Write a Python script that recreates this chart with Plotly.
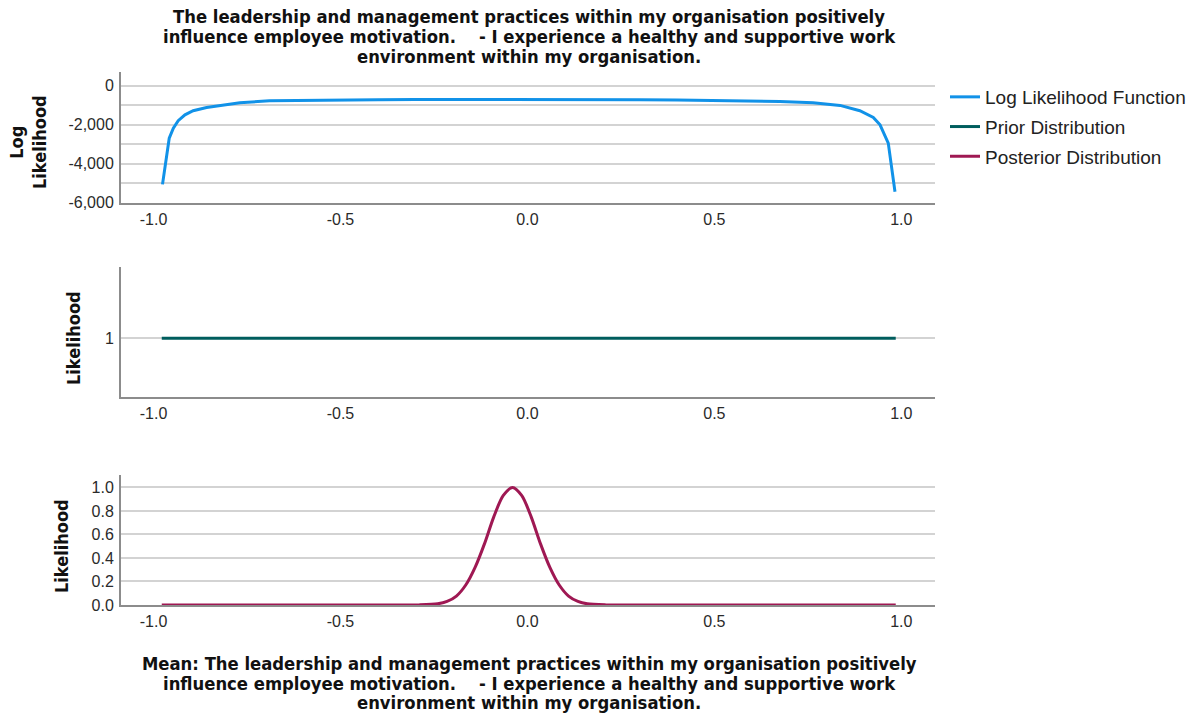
import plotly.graph_objects as go

# ---- data ----
loglik_x = [-0.976, -0.958, -0.947, -0.934, -0.916, -0.894, -0.858, -0.813, -0.769, -0.69,
            -0.6, -0.5, -0.4, -0.3, -0.2, -0.1, -0.05, 0.0, 0.1, 0.2, 0.3, 0.4, 0.5, 0.6,
            0.675, 0.764, 0.836, 0.889, 0.925, 0.943, 0.965, 0.983]
loglik_y = [-5070, -2700, -2180, -1800, -1500, -1290, -1120, -980, -880, -780,
            -750, -730, -720, -712, -707, -705, -704, -705, -708, -712, -720, -735, -755, -785,
            -810, -875, -1015, -1290, -1630, -2010, -2950, -5450]

prior_x = [-0.978, 0.985]
prior_y = [1, 1]

post_x = [-0.978, -0.5, -0.34, -0.29, -0.24, -0.215, -0.19, -0.165, -0.14, -0.115, -0.09,
          -0.065, -0.04, -0.015, 0.01, 0.035, 0.06, 0.085, 0.11, 0.135, 0.16, 0.21, 0.26,
          0.5, 0.985]
post_y = [0.0, 0.0, 0.0, 0.001, 0.01, 0.03, 0.076, 0.17, 0.32, 0.52, 0.75,
          0.93, 1.0, 0.93, 0.75, 0.52, 0.32, 0.17, 0.076, 0.03, 0.01, 0.001, 0.0,
          0.0, 0.0]

x_ticks = [-1.0, -0.5, 0.0, 0.5, 1.0]
x_ticktext = ["-1.0", "-0.5", "0.0", "0.5", "1.0"]
top_ticks = [-6000, -5000, -4000, -3000, -2000, -1000, 0]
top_ticktext = ["-6,000", "", "-4,000", "", "-2,000", "", "0"]
mid_ticks = [1]
bot_ticks = [0.0, 0.2, 0.4, 0.6, 0.8, 1.0]
bot_ticktext = ["0.0", "0.2", "0.4", "0.6", "0.8", "1.0"]

title_lines = ["The leadership and management practices within my organisation positively",
               "influence employee motivation.    - I experience a healthy and supportive work",
               "environment within my organisation."]
xtitle_lines = ["Mean: The leadership and management practices within my organisation positively",
                "influence employee motivation.    - I experience a healthy and supportive work",
                "environment within my organisation."]

# ---- styles ----
C_LL = "#1192e8"
C_PRIOR = "#005d5d"
C_POST = "#9f1853"
NARROW = "Liberation Sans Narrow, Arial Narrow, DejaVu Sans Condensed, sans-serif"
REG = "Liberation Sans, Arial, sans-serif"
GRID = "#d3d3d3"
AXIS = "#8c8c8c"

W, H = 1203, 718
ML, MR, MT, MB = 121, 268, 72, 113
PW, PH = W - ML - MR, H - MT - MB


def py(px):  # pixel y -> paper y
    return (H - MB - px) / PH


def pxx(px):  # pixel x -> paper x
    return (px - ML) / PW


fig = go.Figure()
fig.add_trace(go.Scatter(x=loglik_x, y=loglik_y, mode="lines", name="Log Likelihood Function",
                         line=dict(color=C_LL, width=3), xaxis="x", yaxis="y",
                         legendgroup="a"))
fig.add_trace(go.Scatter(x=prior_x, y=prior_y, mode="lines", name="Prior Distribution",
                         line=dict(color=C_PRIOR, width=3), xaxis="x2", yaxis="y2",
                         legendgroup="b"))
fig.add_trace(go.Scatter(x=post_x, y=post_y, mode="lines", name="Posterior Distribution",
                         line=dict(color=C_POST, width=3, shape="spline", smoothing=0.8),
                         xaxis="x3", yaxis="y3", legendgroup="c"))

xcommon = dict(range=[-1.087, 1.09], tickvals=x_ticks, ticktext=x_ticktext, showgrid=False,
               zeroline=False, showline=True, linecolor=AXIS, linewidth=2,
               ticks="outside", ticklen=1, tickcolor="rgba(0,0,0,0)",
               tickfont=dict(family=REG, size=16, color="#2a2a2a"), fixedrange=True)
ycommon = dict(showgrid=True, gridcolor=GRID, gridwidth=2, zeroline=False, showline=True,
               linecolor=AXIS, linewidth=2, ticks="outside", ticklen=2,
               tickcolor="rgba(0,0,0,0)",
               tickfont=dict(family=REG, size=16, color="#2a2a2a"), fixedrange=True)

fig.update_layout(
    width=W, height=H,
    margin=dict(l=ML, r=MR, t=MT, b=MB),
    paper_bgcolor="white", plot_bgcolor="white",
    xaxis=dict(domain=[0, 1], anchor="y", **xcommon),
    xaxis2=dict(domain=[0, 1], anchor="y2", **xcommon),
    xaxis3=dict(domain=[0, 1], anchor="y3", **xcommon),
    yaxis=dict(domain=[py(202.5), 1.0], anchor="x", range=[-6000, 700],
               tickvals=top_ticks, ticktext=top_ticktext, **ycommon),
    yaxis2=dict(domain=[py(396.7), py(266.7)], anchor="x2", range=[0.551, 1.548],
                tickvals=mid_ticks, ticktext=["1"], **ycommon),
    yaxis3=dict(domain=[0, py(475)], anchor="x3", range=[0, 1.106],
                tickvals=bot_ticks, ticktext=bot_ticktext, **ycommon),
    showlegend=True,
    legend=dict(x=pxx(945), y=py(78), xanchor="left", yanchor="top",
                font=dict(family=REG, size=19, color="#222222"),
                tracegroupgap=2, itemwidth=30, bgcolor="rgba(0,0,0,0)"),
)

TFONT = dict(family=NARROW, size=18.3, color="#111111")
annots = []
for line, ypx in zip(title_lines, [17, 37, 56]):
    annots.append(dict(text="<b>" + line + "</b>", x=pxx(529), y=py(ypx), xref="paper",
                       yref="paper", showarrow=False, xanchor="center", yanchor="middle",
                       font=TFONT))
for line, ypx in zip(xtitle_lines, [663, 683, 702]):
    annots.append(dict(text="<b>" + line + "</b>", x=pxx(529), y=py(ypx), xref="paper",
                       yref="paper", showarrow=False, xanchor="center", yanchor="middle",
                       font=TFONT))
annots += [
    dict(text="<b>Log</b><br><b>Likelihood</b>", x=pxx(28), y=py(142), xref="paper",
         yref="paper", showarrow=False, xanchor="center", yanchor="middle", textangle=-90,
         font=dict(family=NARROW, size=18, color="#111111")),
    dict(text="<b>Likelihood</b>", x=pxx(73), y=py(338), xref="paper", yref="paper",
         showarrow=False, xanchor="center", yanchor="middle", textangle=-90,
         font=dict(family=NARROW, size=18, color="#111111")),
    dict(text="<b>Likelihood</b>", x=pxx(61), y=py(546), xref="paper", yref="paper",
         showarrow=False, xanchor="center", yanchor="middle", textangle=-90,
         font=dict(family=NARROW, size=18, color="#111111")),
]
fig.update_layout(annotations=annots)

fig.write_html("out.html")
